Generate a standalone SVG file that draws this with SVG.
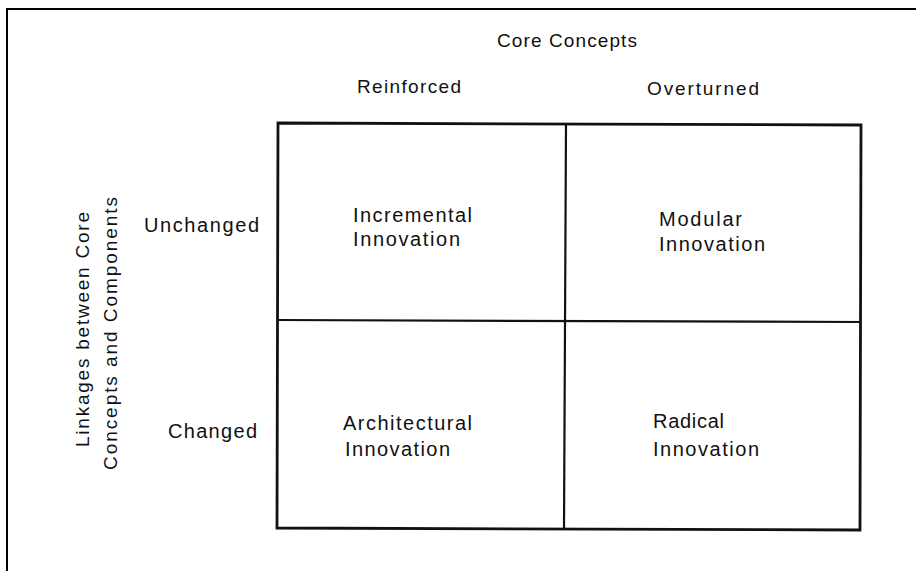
<svg xmlns="http://www.w3.org/2000/svg" width="916" height="571" viewBox="0 0 916 571">
<style>
  text { font-family: "Liberation Sans", Arial, sans-serif; font-size: 20px; fill: #111; }
  .hd { font-size: 19px; }
  .frame { fill: none; stroke: #000; stroke-width: 2; }
  .grid { fill: none; stroke: #111; stroke-width: 2.8; }
  .div { fill: none; stroke: #111; stroke-width: 2.2; }
</style>
<rect width="916" height="571" fill="#fff"/>
<path class="frame" d="M7,580 V9 H925"/>
<g id="headers">
  <text class="hd" x="497" y="47" textLength="140" lengthAdjust="spacing">Core Concepts</text>
  <text class="hd" x="357" y="93" textLength="104" lengthAdjust="spacing">Reinforced</text>
  <text class="hd" x="647" y="95" textLength="112" lengthAdjust="spacing">Overturned</text>
  <text x="144" y="232" textLength="115" lengthAdjust="spacing">Unchanged</text>
  <text x="168" y="438" textLength="89" lengthAdjust="spacing">Changed</text>
  <text class="hd" transform="translate(89,447) rotate(-90)" textLength="235" lengthAdjust="spacing">Linkages between Core</text>
  <text class="hd" transform="translate(117,470) rotate(-90)" textLength="273" lengthAdjust="spacing">Concepts and Components</text>
</g>
<g id="matrix">
  <path class="grid" d="M278,123 L861,125 L860,530 L277,528 Z"/>
</g>
<g id="connectors">
  <path class="div" d="M566,124 L564,529"/>
  <path class="div" d="M278,320 L861,322"/>
</g>
<g id="incremental">
  <text x="353" y="222" textLength="119" lengthAdjust="spacing">Incremental</text>
  <text x="353" y="246" textLength="107" lengthAdjust="spacing">Innovation</text>
</g>
<g id="modular">
  <text x="659" y="226" textLength="83" lengthAdjust="spacing">Modular</text>
  <text x="659" y="251" textLength="106" lengthAdjust="spacing">Innovation</text>
</g>
<g id="architectural">
  <text x="343" y="430" textLength="129" lengthAdjust="spacing">Architectural</text>
  <text x="345" y="456" textLength="105" lengthAdjust="spacing">Innovation</text>
</g>
<g id="radical">
  <text x="653" y="428" textLength="71" lengthAdjust="spacing">Radical</text>
  <text x="653" y="456" textLength="106" lengthAdjust="spacing">Innovation</text>
</g>
</svg>
